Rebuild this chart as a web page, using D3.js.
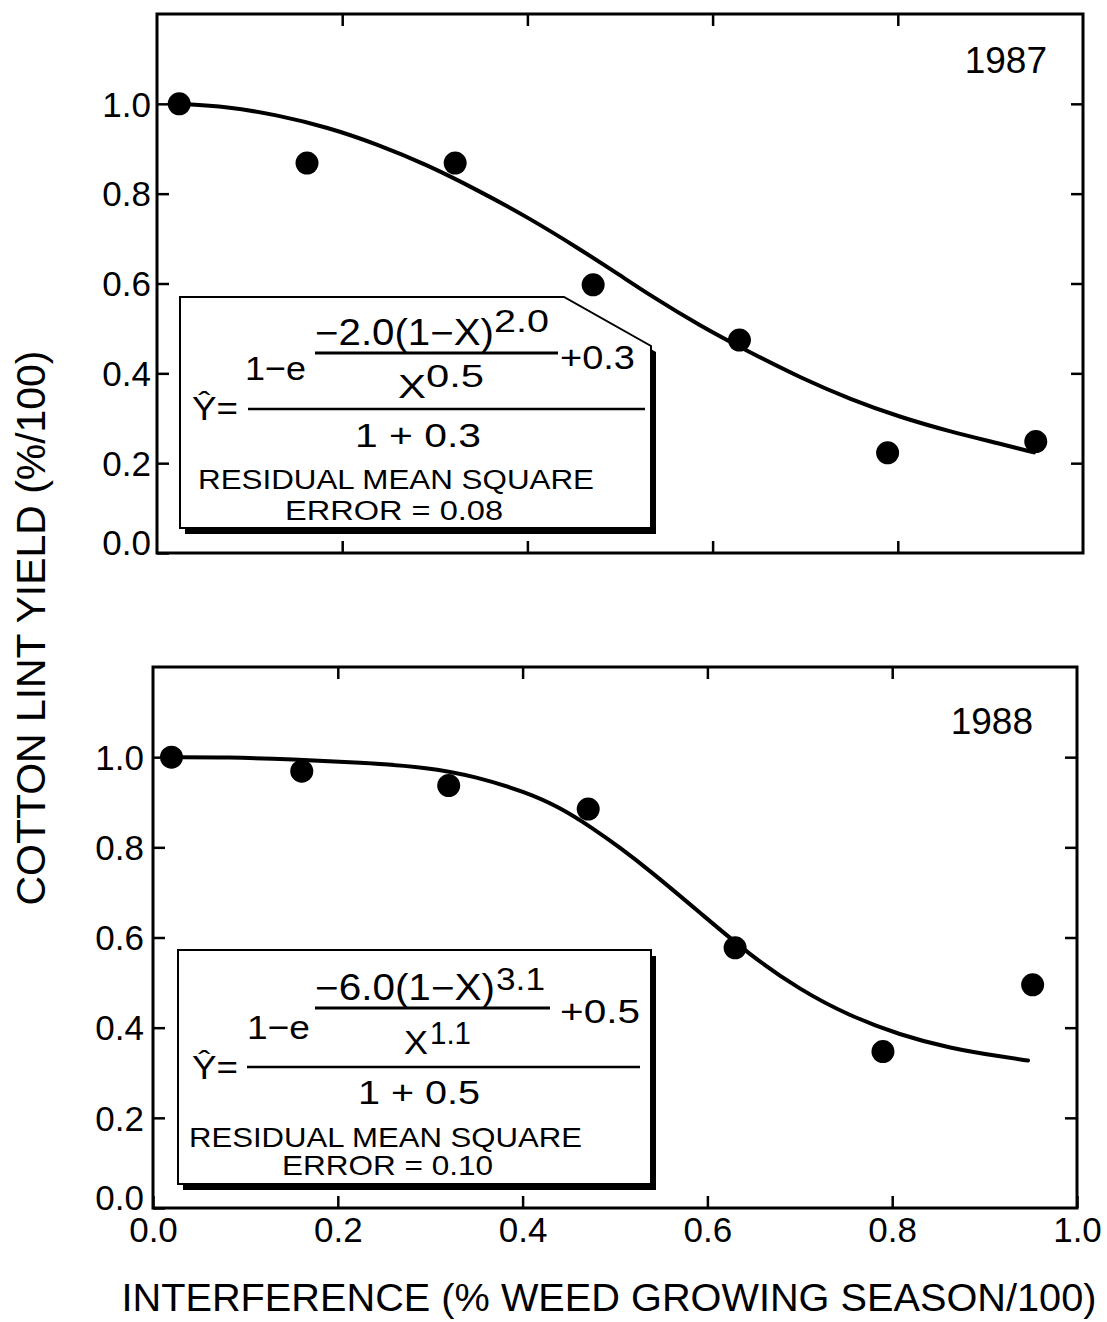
<!DOCTYPE html>
<html>
<head>
<meta charset="utf-8">
<script src="https://cdn.jsdelivr.net/npm/d3@7"></script>
<style>
  html, body { margin: 0; padding: 0; background: #fff; }
  svg { display: block; }
</style>
</head>
<body>
<script>
// ---------------- DATA ----------------
const xTicks = [0.0, 0.2, 0.4, 0.6, 0.8, 1.0];
const yTicks = [0.0, 0.2, 0.4, 0.6, 0.8, 1.0];
const xTickLabels = ["0.0", "0.2", "0.4", "0.6", "0.8", "1.0"];
const yTickLabels = ["0.0", "0.2", "0.4", "0.6", "0.8", "1.0"];

const years = ["1987", "1988"];

// observed points
const obsX1987 = [0.024, 0.162, 0.322, 0.471, 0.629, 0.789, 0.949];
const obsY1987 = [1.000, 0.868, 0.868, 0.597, 0.474, 0.223, 0.248];
const obsX1988 = [0.020, 0.161, 0.320, 0.471, 0.630, 0.790, 0.952];
const obsY1988 = [1.000, 0.969, 0.937, 0.885, 0.577, 0.347, 0.495];

// fitted curves
const fitX1987 = [0.024, 0.076, 0.130, 0.184, 0.238, 0.292, 0.346, 0.400, 0.454, 0.501, 0.533, 0.587, 0.641, 0.695, 0.749, 0.803, 0.857, 0.911, 0.947];
const fitY1987 = [1.000, 0.994, 0.975, 0.948, 0.910, 0.864, 0.808, 0.748, 0.680, 0.617, 0.573, 0.505, 0.446, 0.390, 0.342, 0.302, 0.270, 0.243, 0.224];
const fitX1988 = [0.020, 0.080, 0.152, 0.224, 0.296, 0.350, 0.404, 0.440, 0.477, 0.505, 0.538, 0.592, 0.646, 0.700, 0.754, 0.808, 0.863, 0.917, 0.947];
const fitY1988 = [1.000, 1.000, 0.995, 0.988, 0.978, 0.957, 0.922, 0.889, 0.841, 0.800, 0.748, 0.655, 0.561, 0.484, 0.426, 0.384, 0.354, 0.336, 0.327];

// equation texts
const eq1987 = { num: "\u22122.0(1\u2212X)", numExp: "2.0", plus: "+0.3", one: "1\u2212e", den: "X", denExp: "0.5", lhs: "\u0176=", bottom: "1 + 0.3", rms1: "RESIDUAL MEAN SQUARE", rms2: "ERROR = 0.08" };
const eq1988 = { num: "\u22126.0(1\u2212X)", numExp: "3.1", plus: "+0.5", one: "1\u2212e", den: "X", denExp: "1.1", lhs: "\u0176=", bottom: "1 + 0.5", rms1: "RESIDUAL MEAN SQUARE", rms2: "ERROR = 0.10" };

const xTitle = "INTERFERENCE (% WEED GROWING SEASON/100)";
const yTitle = "COTTON LINT YIELD (%/100)";

// ---------------- LAYOUT ----------------
const W = 1107, H = 1322;
const FONT = "'Liberation Sans', Arial, Helvetica, sans-serif";

const panels = [
  { year: years[0], obsX: obsX1987, obsY: obsY1987, fitX: fitX1987, fitY: fitY1987, eq: eq1987,
    left: 157, right: 1083, top: 14, bottom: 553, labelGap: 6, showX: false,
    yearAt: [1047, 73, 37],
    boxPath: "M180,297 H564 L651,346 V528 H180 Z",
    eqPos: { num: [315, 345, 36, 179], numExp: [494, 332, 31, 55], numLine: [315, 558, 353],
             plus: [560, 369, 34, 75], one: [245, 380, 34, 61], den: [398, 398, 34, 28], denExp: [426, 387, 31, 58],
             lhs: [192, 420, 34, 46], mainLine: [248, 645, 409], bottom: [355, 447, 34, 126],
             rms1: [198, 489, 27, 396], rms2: [285, 520, 27, 218] } },
  { year: years[1], obsX: obsX1988, obsY: obsY1988, fitX: fitX1988, fitY: fitY1988, eq: eq1988,
    left: 153, right: 1077, top: 667, bottom: 1208, labelGap: 9, showX: true,
    yearAt: [1033, 734, 37],
    boxPath: "M178,950 H651 V1184 H178 Z",
    eqPos: { num: [315, 1000, 36, 180], numExp: [496, 990, 31, 49], numLine: [315, 550, 1008],
             plus: [560, 1023, 34, 80], one: [247, 1039, 34, 63], den: [404, 1054, 34, 24], denExp: [430, 1044, 31, 41],
             lhs: [192, 1079, 34, 46], mainLine: [247, 640, 1067], bottom: [358, 1104, 34, 122],
             rms1: [189, 1147, 28, 393], rms2: [282, 1175, 28, 211] } }
];

const svg = d3.select("body").append("svg")
  .attr("width", W).attr("height", H)
  .attr("font-family", FONT);
svg.append("rect").attr("width", W).attr("height", H).attr("fill", "#fff");

function addText(g, t, p) {
  return g.append("text")
    .attr("x", p[0]).attr("y", p[1])
    .attr("font-size", p[2])
    .attr("textLength", p[3])
    .attr("lengthAdjust", "spacingAndGlyphs")
    .attr("fill", "#000")
    .text(t);
}

panels.forEach(P => {
  const x = d3.scaleLinear().domain([0, 1]).range([P.left, P.right]);
  const y = d3.scaleLinear().domain([0, 1.2]).range([P.bottom, P.top]);
  const g = svg.append("g");

  // axes (inward ticks)
  const tickLen = 12;
  const yl = g.append("g").attr("transform", `translate(${P.left},0)`)
    .call(d3.axisLeft(y).tickValues(yTicks).tickSize(-tickLen).tickPadding(P.labelGap)
      .tickFormat((d, i) => yTickLabels[i]));
  yl.selectAll("text").attr("font-size", 35).attr("font-family", FONT).attr("fill", "#000")
    .attr("dy", "0.35em")
    .attr("y", d => d === 0 ? -11 : 0);

  g.append("g").attr("transform", `translate(${P.right},0)`)
    .call(d3.axisRight(y).tickValues(yTicks.slice(1)).tickSize(-tickLen).tickFormat(""));
  g.append("g").attr("transform", `translate(0,${P.top})`)
    .call(d3.axisTop(x).tickValues(xTicks.slice(1, -1)).tickSize(-tickLen).tickFormat(""));
  const xb = g.append("g").attr("transform", `translate(0,${P.bottom})`)
    .call(d3.axisBottom(x).tickValues(P.showX ? xTicks : xTicks.slice(1, -1)).tickSize(-tickLen).tickPadding(9)
      .tickFormat((d, i) => P.showX ? xTickLabels[xTicks.indexOf(d)] : ""));
  xb.selectAll("text").attr("font-size", 35).attr("font-family", FONT).attr("fill", "#000");

  g.selectAll(".domain").remove();
  g.selectAll(".tick line").attr("stroke", "#000").attr("stroke-width", 2.5);

  // frame
  g.append("rect")
    .attr("x", P.left).attr("y", P.top)
    .attr("width", P.right - P.left).attr("height", P.bottom - P.top)
    .attr("fill", "none").attr("stroke", "#000").attr("stroke-width", 3);

  // year label
  g.append("text").attr("x", P.yearAt[0]).attr("y", P.yearAt[1])
    .attr("font-size", P.yearAt[2]).attr("text-anchor", "end").attr("fill", "#000")
    .text(P.year);

  // equation box with drop shadow
  g.append("path").attr("d", P.boxPath).attr("transform", "translate(5,6)").attr("fill", "#000");
  g.append("path").attr("d", P.boxPath).attr("fill", "#fff").attr("stroke", "#000").attr("stroke-width", 2);

  const E = P.eq, Q = P.eqPos;
  addText(g, E.num, Q.num);
  addText(g, E.numExp, Q.numExp);
  g.append("line").attr("x1", Q.numLine[0]).attr("x2", Q.numLine[1]).attr("y1", Q.numLine[2]).attr("y2", Q.numLine[2])
    .attr("stroke", "#000").attr("stroke-width", 3);
  addText(g, E.plus, Q.plus);
  addText(g, E.one, Q.one);
  addText(g, E.den, Q.den);
  addText(g, E.denExp, Q.denExp);
  addText(g, E.lhs, Q.lhs);
  g.append("line").attr("x1", Q.mainLine[0]).attr("x2", Q.mainLine[1]).attr("y1", Q.mainLine[2]).attr("y2", Q.mainLine[2])
    .attr("stroke", "#000").attr("stroke-width", 2.5);
  addText(g, E.bottom, Q.bottom);
  addText(g, E.rms1, Q.rms1);
  addText(g, E.rms2, Q.rms2);

  // fitted curve
  const fit = P.fitX.map((v, i) => [v, P.fitY[i]]);
  g.append("path").datum(fit)
    .attr("d", d3.line().x(d => x(d[0])).y(d => y(d[1])).curve(d3.curveBasis))
    .attr("fill", "none").attr("stroke", "#000").attr("stroke-width", 4).attr("stroke-linecap", "round");

  // observed points
  const obs = P.obsX.map((v, i) => [v, P.obsY[i]]);
  g.selectAll("circle.pt").data(obs).enter().append("circle")
    .attr("class", "pt")
    .attr("cx", d => x(d[0])).attr("cy", d => y(d[1]))
    .attr("r", 11.5).attr("fill", "#000");
});

// axis titles
svg.append("text")
  .attr("x", 609).attr("y", 1311)
  .attr("text-anchor", "middle").attr("font-size", 39)
  .attr("textLength", 975).attr("lengthAdjust", "spacingAndGlyphs")
  .attr("fill", "#000")
  .text(xTitle);

svg.append("text")
  .attr("transform", "translate(45,628) rotate(-90)")
  .attr("text-anchor", "middle").attr("font-size", 40)
  .attr("textLength", 555).attr("lengthAdjust", "spacingAndGlyphs")
  .attr("fill", "#000")
  .text(yTitle);
</script>
</body>
</html>
